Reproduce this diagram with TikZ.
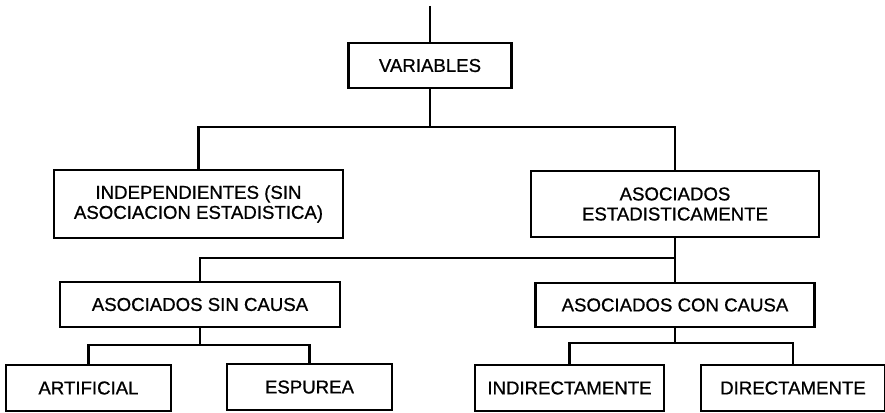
\documentclass[tikz,border=0pt]{standalone}
\usepackage{fontspec}
\setmainfont{Liberation Sans}
\newfontfamily\cajafont{Liberation Sans}[FakeBold=0.8]
\usetikzlibrary{positioning}

\tikzset{
    caja/.style={draw=black, line width=1.2pt, fill=white, align=center, inner sep=2pt,
        font=\cajafont\fontsize{10.6}{11.4}\selectfont},
    linea/.style={black, line width=1.2pt},
}

\begin{document}
\begin{tikzpicture}
    \useasboundingbox (0, 0) rectangle (17.7, -8.26);

    \node[caja, minimum width=3.26cm, minimum height=0.9cm] (var) at (8.6, -1.31) {VARIABLES};

    \node[caja, minimum width=5.78cm, minimum height=1.36cm] (indep) at (3.97, -4.08) {INDEPENDIENTES (SIN\\ASOCIACION ESTADISTICA)};
    \node[caja, minimum width=5.76cm, minimum height=1.32cm] (asoc) at (13.5, -4.08) {ASOCIADOS\\ESTADISTICAMENTE};

    \node[caja, minimum width=5.6cm, minimum height=0.9cm] (sin) at (4.0, -6.09) {ASOCIADOS SIN CAUSA};
    \node[caja, minimum width=5.58cm, minimum height=0.88cm] (con) at (13.5, -6.1) {ASOCIADOS CON CAUSA};

    \node[caja, minimum width=3.3cm, minimum height=0.92cm] (art) at (1.77, -7.76) {ARTIFICIAL};
    \node[caja, minimum width=3.3cm, minimum height=0.92cm] (esp) at (6.19, -7.74) {ESPUREA};
    \node[caja, minimum width=3.78cm, minimum height=0.92cm] (ind) at (11.39, -7.76) {INDIRECTAMENTE};
    \node[caja, minimum width=3.68cm, minimum height=0.92cm] (dir) at (15.86, -7.76) {DIRECTAMENTE};

    % conectores
    \coordinate (arriba) at (8.6, -0.12);
    \draw[linea] (arriba) -- (var.north);

    \draw[linea] (var.south) -- ++(0, -0.76) coordinate (b1);
    \draw[linea] (indep.north) |- (b1) -| (asoc.north);

    \draw[linea] (asoc.south) -- ++(0, -0.4) coordinate (b2);
    \draw[linea] (b2) -- (con.north);
    \draw[linea] (b2) -| (sin.north);

    \draw[linea] (sin.south) -- ++(0, -0.34) coordinate (b3);
    \draw[linea] (art.north) |- (b3) -| (esp.north);

    \draw[linea] (con.south) -- ++(0, -0.3) coordinate (b4);
    \draw[linea] (ind.north) |- (b4) -| (dir.north);
\end{tikzpicture}
\end{document}
